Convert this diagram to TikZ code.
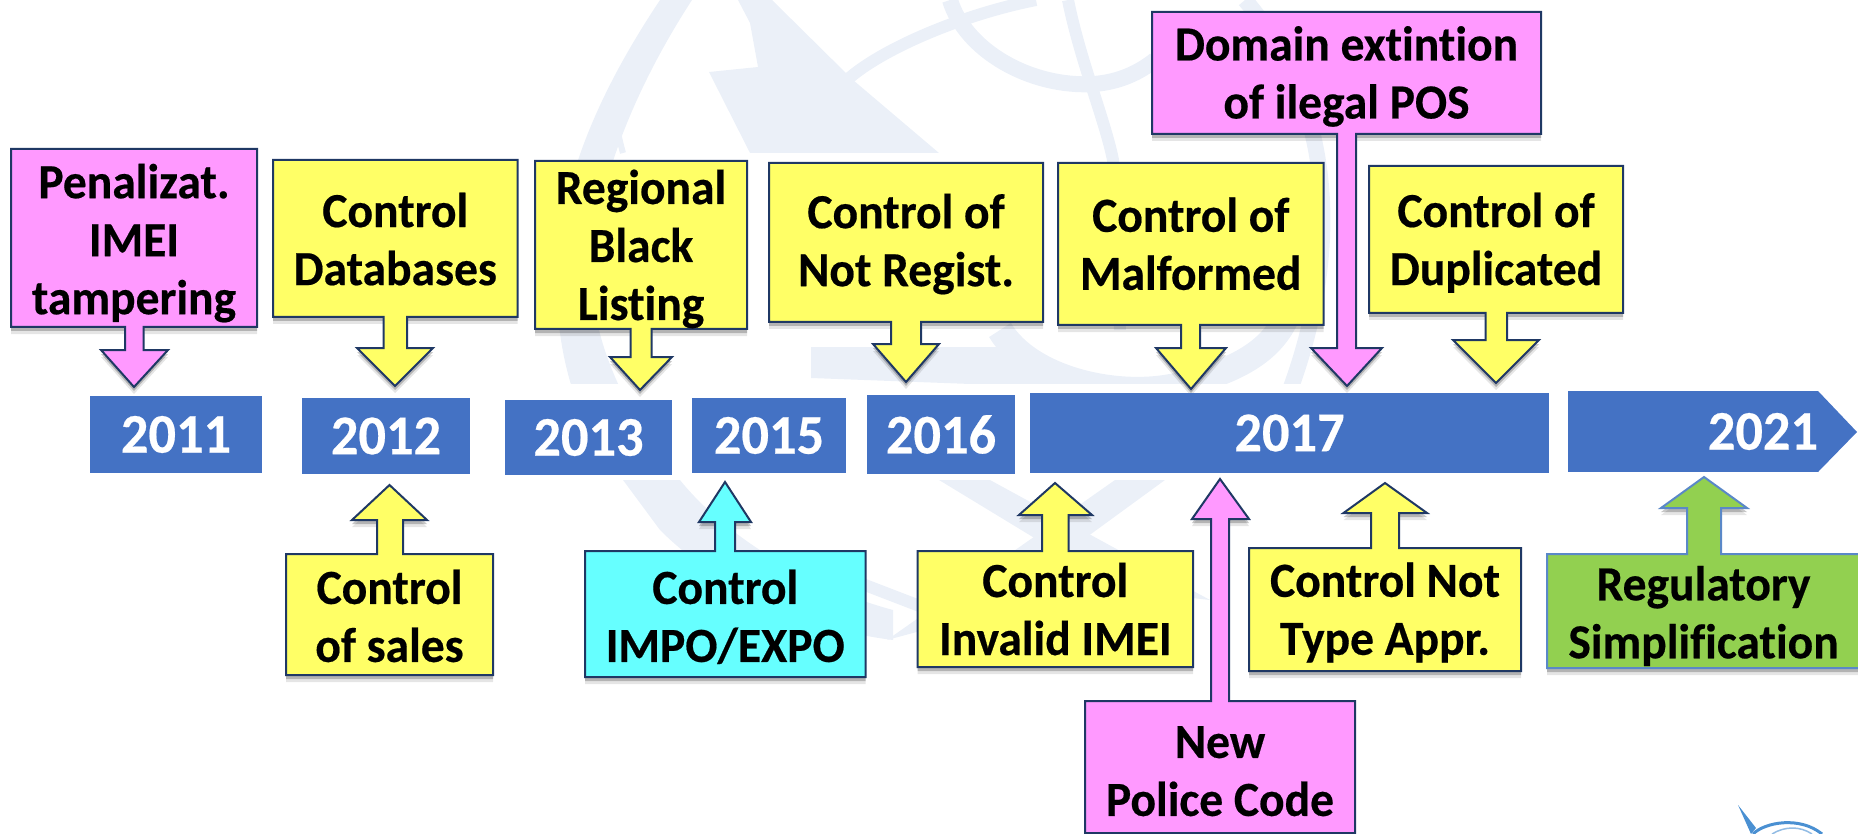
\documentclass[tikz,border=0pt]{standalone}
\usepackage{fontspec}
\setmainfont{Carlito}[Ligatures=NoCommon,WordSpace=1,FakeStretch=0.97,BoldFeatures={FakeBold=0.4}]
\usetikzlibrary{shadows}
\pgfdeclarelayer{background}
\pgfsetlayers{background,main}
\definecolor{cPink}{HTML}{FF99FF}
\definecolor{cYellow}{HTML}{FFFF66}
\definecolor{cCyan}{HTML}{66FFFF}
\definecolor{cGreen}{HTML}{92D050}
\definecolor{cBlue}{HTML}{4472C4}
\definecolor{cNavy}{HTML}{1F3864}
\definecolor{cEdge}{HTML}{5A88C8}
\definecolor{cMark}{HTML}{EBF0F8}
\definecolor{cLogo}{HTML}{4A90D2}
\tikzset{
  softshadow/.style={
    general shadow={shadow xshift=0pt,shadow yshift=-7pt,fill=black,opacity=.10},
    general shadow={shadow xshift=0pt,shadow yshift=-4pt,fill=black,opacity=.22}},
  callshape/.style={draw=cNavy,line width=2pt,line join=miter,softshadow},
  pinkcall/.style={callshape,fill=cPink},
  yellowcall/.style={callshape,fill=cYellow},
  cyancall/.style={callshape,fill=cCyan},
  greencall/.style={callshape,fill=cGreen,draw=cEdge},
  calltext/.style={inner sep=0pt,outer sep=0pt,text=black,
    font=\fontsize{49}{58}\selectfont\bfseries},
  yeartext/.style={inner sep=0pt,outer sep=0pt,fill=cBlue,text=white,
    font=\fontsize{56}{60}\selectfont\bfseries},
  markband/.style={draw=cMark,line cap=butt},
}
% box: name, left, top, right, bottom, text shift down, text
\newcommand{\callbox}[7]{%
  \pgfmathsetlengthmacro{\boxw}{(#4-#2)*1pt}%
  \pgfmathsetlengthmacro{\boxh}{(#5-#3)*1pt}%
  \pgfmathsetlengthmacro{\boxs}{(51+2*#6)*1pt}%
  \node[calltext]
    (#1) at ({(#2+#4)/2},{(#3+#5)/2})
    {\parbox[c][\boxh][c]{\boxw}{\centering\rule{0pt}{\boxs}#7\rule[-16pt]{0pt}{16pt}}};}
% outline with arrow downwards: style, box, stem l, stem r, head y, head l, head r, tip x, tip y
\newcommand{\calldown}[9]{%
  \coordinate (#2-sl) at (#3,0); \coordinate (#2-sr) at (#4,0);
  \coordinate (#2-hl) at (#6,#5); \coordinate (#2-hr) at (#7,#5);
  \coordinate (#2-tip) at (#8,#9);
  \begin{pgfonlayer}{background}
  \path[#1] (#2.north west) -- (#2.north east) -- (#2.south east)
    -- (#2-sr |- #2.south) -- (#2-sr |- #2-hr) -- (#2-hr) -- (#2-tip)
    -- (#2-hl) -- (#2-sl |- #2-hl) -- (#2-sl |- #2.south)
    -- (#2.south west) -- cycle;
  \end{pgfonlayer}}
% outline with arrow upwards
\newcommand{\callup}[9]{%
  \coordinate (#2-sl) at (#3,0); \coordinate (#2-sr) at (#4,0);
  \coordinate (#2-hl) at (#6,#5); \coordinate (#2-hr) at (#7,#5);
  \coordinate (#2-tip) at (#8,#9);
  \begin{pgfonlayer}{background}
  \path[#1] (#2.south west) -- (#2.north west)
    -- (#2-sl |- #2.north) -- (#2-sl |- #2-hl) -- (#2-hl) -- (#2-tip)
    -- (#2-hr) -- (#2-sr |- #2-hr) -- (#2-sr |- #2.north)
    -- (#2.north east) -- (#2.south east) -- cycle;
  \end{pgfonlayer}}
\newcommand{\yearbox}[6]{%
  \pgfmathsetlengthmacro{\boxw}{(#4-#2)*1pt}%
  \pgfmathsetlengthmacro{\boxh}{(#5-#3)*1pt}%
  \node[yeartext,minimum width=\boxw,minimum height=\boxh]
    (#1) at ({(#2+#4)/2},{(#3+#5)/2}) {#6};}
\begin{document}
\begin{tikzpicture}[x=1pt,y=-1pt]
\useasboundingbox (0,0) rectangle (1858,834);

% faint globe watermark
\begin{pgfonlayer}{background}
\fill[cMark] (738,0) -- (750,23) -- (758,67) -- (709,72) -- (750,153) -- (939,153)
   -- (853,80) -- (772,0) -- cycle;
\fill[cMark] (660,0) .. controls (600,90) and (560,180) .. (557,272)
   .. controls (555,340) and (570,420) .. (623,480) -- (660,530)
   .. controls (720,590) and (810,630) .. (893,640) -- (893,610)
   .. controls (800,585) and (720,530) .. (680,480)
   .. controls (620,410) and (590,330) .. (592,272)
   .. controls (595,180) and (640,80) .. (692,0) -- cycle;
\draw[markband,line width=6pt] (618,83) .. controls (612,110) and (618,135) .. (623,153);
\draw[markband,line width=12pt] (847,80) .. controls (880,50) and (960,15) .. (1036,0);
\draw[markband,line width=16pt] (950,0) .. controls (965,50) and (1030,88) .. (1094,84)
   .. controls (1120,82) and (1140,72) .. (1155,60);
\draw[markband,line width=12pt] (1068,0) .. controls (1080,60) and (1105,120) .. (1113,160)
   -- (1120,330);
\draw[markband,line width=16pt] (1245,0) .. controls (1330,100) and (1345,240) .. (1290,390);
\fill[cMark] (811,347) -- (1010,347) .. controls (1040,370) and (1090,390) .. (1130,390)
   -- (811,378) -- cycle;
\draw[markband,line width=26pt] (1000,330) .. controls (1030,380) and (1120,400) .. (1180,385)
   .. controls (1240,370) and (1270,350) .. (1285,320);
\fill[white] (495,384) rectangle (1560,480);
\fill[cMark] (939,480) -- (990,480) -- (1210,600) -- (1120,590) -- cycle;
\fill[cMark] (1115,480) -- (1165,480) -- (980,615) -- (887,640) -- cycle;
\draw[cMark,line width=12pt] (800,560) -- (930,610);
\end{pgfonlayer}

% timeline
\yearbox{y2011}{90}{396}{262}{473}{2011}
\yearbox{y2012}{302}{398}{470}{474}{2012}
\yearbox{y2013}{505}{400}{672}{475}{2013}
\yearbox{y2015}{692}{398}{846}{473}{2015}
\yearbox{y2016}{867}{395}{1015}{474}{2016}
\yearbox{y2017}{1030}{393}{1549}{473}{2017}
\node[yeartext,minimum width=250pt,minimum height=81pt,text width=250pt,
      align=right] (y2021) at (1693,431.5) {2021};
\coordinate (y2021-tip) at (1857,432);
\begin{pgfonlayer}{background}
  \fill[cBlue] (y2021.north east) -- (y2021-tip) -- (y2021.south east) -- cycle;
\end{pgfonlayer}

% callouts above the line
\callbox{pen}{11}{149}{257}{327}{0.7}{Penalizat.\\IMEI\\tampering}
\calldown{pinkcall}{pen}{125}{143.5}{350}{101}{168}{134}{387}
\callbox{dbs}{273}{160}{517.5}{317}{0.1}{Control\\Databases}
\calldown{yellowcall}{dbs}{383.6}{407}{348}{357}{433}{395}{386}
\callbox{reg}{535}{161}{747}{329}{-0.5}{Regional\\Black\\Listing}
\calldown{yellowcall}{reg}{630.6}{651.5}{357}{610}{672}{640}{390}
\callbox{nrg}{769}{163}{1043}{322}{-2.8}{Control of\\Not Regist.}
\calldown{yellowcall}{nrg}{891}{921}{344}{873}{939}{906}{382}
\callbox{mal}{1058}{163}{1323.5}{325}{-0.7}{Control of\\Malformed}
\calldown{yellowcall}{mal}{1181}{1200}{348}{1156}{1226}{1191}{389}
\callbox{dom}{1152}{12}{1541}{134}{-1}{Domain extintion\\of ilegal POS}
\calldown{pinkcall}{dom}{1337}{1356}{348}{1311}{1382}{1347}{386}
\callbox{dup}{1369}{166}{1623}{313}{-0.9}{Control of\\Duplicated}
\calldown{yellowcall}{dup}{1485.5}{1507}{340}{1453}{1539}{1496}{383}

% callouts below the line
\callbox{sal}{286}{554}{493}{675}{0.9}{Control\\of sales}
\callup{yellowcall}{sal}{377}{403}{520}{352}{427}{389.5}{485}
\callbox{imp}{585}{551}{865.5}{677}{1.4}{Control\\IMPO/EXPO}
\callup{cyancall}{imp}{715}{735}{522}{699}{751}{725}{482}
\callbox{inv}{917.5}{551}{1193}{667}{-0.5}{Control\\Invalid IMEI}
\callup{yellowcall}{inv}{1042}{1068.5}{515}{1019}{1092}{1055}{483}
\callbox{pol}{1085}{701}{1355}{833}{2.4}{New\\Police Code}
\callup{pinkcall}{pol}{1211}{1229}{519}{1192}{1249}{1220}{479}
\callbox{typ}{1249}{548}{1521}{671}{-1.2}{Control Not\\Type Appr.}
\callup{yellowcall}{typ}{1371}{1399}{513}{1343.5}{1427}{1385}{483}
\callbox{sim}{1547}{554}{1860}{668}{0.8}{Regulatory\\Simplification}
\callup{greencall}{sim}{1687}{1721}{508}{1661}{1747}{1704}{477}

% corner logo fragment
\fill[cLogo] (1738,805) -- (1756,828) -- (1751,834) -- cycle;
\draw[cLogo,line width=3pt] (1753,834) .. controls (1765,822) and (1800,816) .. (1822,834);
\draw[cLogo!60,line width=1.5pt] (1772,834) .. controls (1785,826) and (1800,826) .. (1812,834);
\end{tikzpicture}
\end{document}
